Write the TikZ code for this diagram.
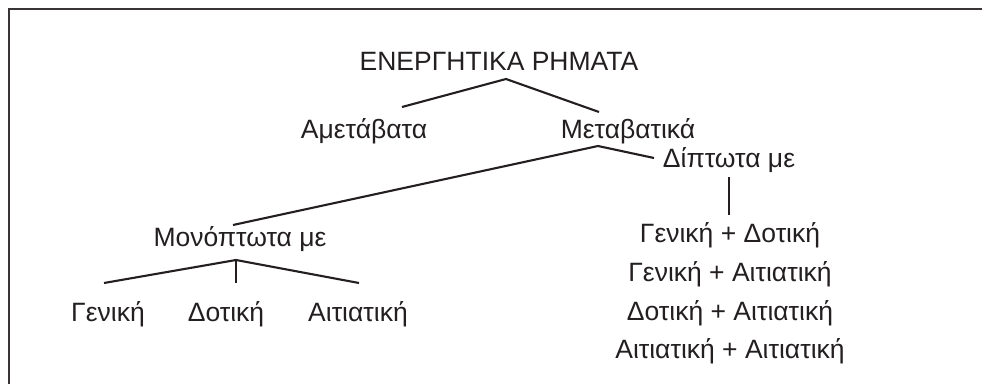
\documentclass[tikz,border=0pt]{standalone}
\usepackage{fontspec}
\setmainfont{Liberation Sans}
\usetikzlibrary{positioning}
\definecolor{ink}{HTML}{231F20}
\tikzset{
	term/.style={anchor=base, inner sep=0pt, text=ink, font=\fontsize{26.5}{31}\selectfont},
	branch/.style={line width=2.1pt, draw=ink},
	frame/.style={line width=2.8pt, draw=ink!90},
}

\begin{document}
\begin{tikzpicture}[x=1pt, y=1pt]
	\useasboundingbox (0,0) rectangle (982,384);
	\draw[frame] (9,0) -- (9,375) -- (982,375);
	
	\node (root) [term] at (499,314) {ΕΝΕΡΓΗΤΙΚΑ ΡΗΜΑΤΑ};
	\node (amet) [term] at (364,246) {Αμετάβατα};
	\node (metab) [term] at (628,246) {Μεταβατικά};
	\node (dipt) [term] at (729,217) {Δίπτωτα με};
	\node (monopt) [term] at (240,138) {Μονόπτωτα με};
	
	\node (gen) [term] at (108,63) {Γενική};
	\node (dot) [term] at (226,63) {Δοτική};
	\node (ait) [term] at (358,63) {Αιτιατική};
	
	\node (gendot) [term] at (730,142) {Γενική + Δοτική};
	\node (genait) [term] at (730,103) {Γενική + Αιτιατική};
	\node (dotait) [term] at (730,64) {Δοτική + Αιτιατική};
	\node (aitait) [term] at (730,26) {Αιτιατική + Αιτιατική};
	
	% fork points
	\coordinate (rootfork) at ([shift={(7,-9)}]root.base);
	\coordinate (metabfork) at ([shift={(-30,-8)}]metab.base);
	\coordinate (monoptfork) at ([shift={(-4,-14)}]monopt.base);
	
	\begin{scope}[branch]
		\draw ([shift={(38,31)}]amet.base) -- (rootfork) -- ([shift={(-29,26)}]metab.base);
		\draw ([shift={(-7,21)}]monopt.base) -- (metabfork) -- ([shift={(-75,9)}]dipt.base);
		\draw ([shift={(0,-10)}]dipt.base) -- ([shift={(-1,27)}]gendot.base);
		\draw ([shift={(-4,38)}]gen.base) -- (monoptfork) -- ([shift={(1,38)}]ait.base);
		\draw (monoptfork) -- ([shift={(10,38)}]dot.base);
	\end{scope}
\end{tikzpicture}
\end{document}
